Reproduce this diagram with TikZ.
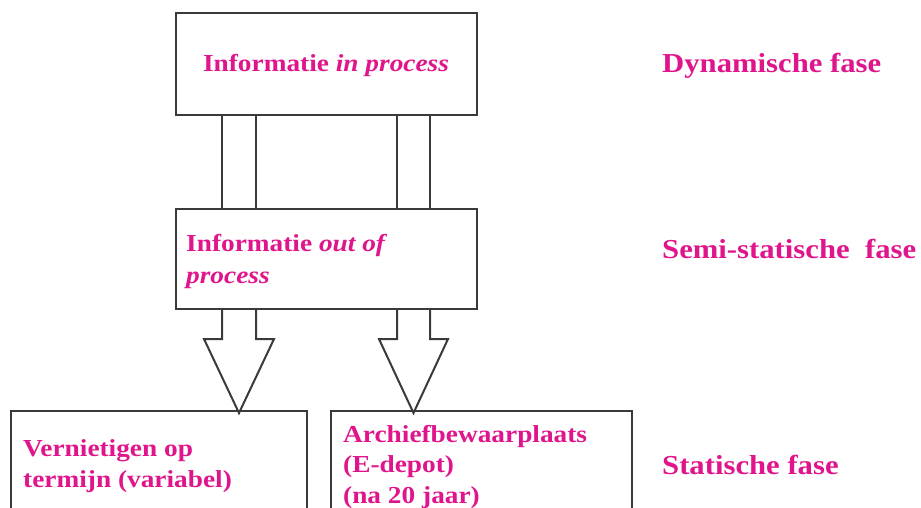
\documentclass[tikz,border=0pt]{standalone}
\usepackage{fontspec}
\setmainfont{Liberation Serif}[FakeStretch=1.12]
\usetikzlibrary{positioning,calc}
\definecolor{LabelPink}{HTML}{E0158C}
\definecolor{LineGrey}{HTML}{3A3A3A}
\tikzset{
    % Phase box
    phasebox/.style={
        draw=LineGrey,
        line width=2pt,
        fill=white,
        minimum width=301pt,
        minimum height=102pt,
        anchor=north west,
        inner sep=0pt
    },
    % Storage box (bottom row)
    storebox/.style={
        phasebox,
        minimum width=296pt,
        minimum height=140pt
    },
    % Pink bold text in the boxes
    pinktext/.style={
        text=LabelPink,
        font=\fontsize{24.4}{30.5}\selectfont\bfseries,
        inner sep=0pt,
        align=left
    },
    % Phase label on the right
    phaselabel/.style={
        pinktext,
        font=\fontsize{27.4}{32}\selectfont\bfseries,
        anchor=base west
    },
    % Plain shaft line
    shaftline/.style={
        draw=LineGrey,
        line width=2pt
    },
    % Hollow block arrow
    hollowarrow/.style={
        draw=LineGrey,
        fill=white,
        line width=2pt,
        line join=miter
    }
}
\begin{document}
\begin{tikzpicture}[x=1pt,y=-1pt]
    \clip (0,0) rectangle (921,508);
    \fill[white] (0,0) rectangle (921,508);

    % Boxes
    \node[phasebox] (inproc) at (175,12) {};
    \node[phasebox, minimum height=100pt] (outproc) at (175,208) {};
    \node[storebox] (destroy) at (10,410) {};
    \node[storebox, minimum width=301pt] (archive) at (330,410) {};

    % Shafts between the upper boxes
    \foreach \dx in {47,81,222,255}
        \draw[shaftline] ($(inproc.south west)+(\dx,0)$) -- ($(outproc.north west)+(\dx,0)$);

    % Hollow arrows down to the bottom boxes
    \draw[hollowarrow] ($(outproc.south west)+(47,0)$) -- ++(0,29) -- ++(-18,0) -- ++(35,74) -- ++(35,-74) -- ++(-18,0) -- ++(0,-29);
    \draw[hollowarrow] ($(outproc.south west)+(222,0)$) -- ++(0,29) -- ++(-18,0) -- ++(34.5,74) -- ++(34.5,-74) -- ++(-18,0) -- ++(0,-29);

    % Box texts
    \node[pinktext, anchor=base] (inproctext) at (326,72) {Informatie \textit{in process}};
    \node[pinktext, anchor=base west, font=\fontsize{24.4}{32}\selectfont\bfseries] (outproctext) at (186,283) {Informatie \textit{out of}\\\textit{process}};
    \node[pinktext, anchor=base west] (destroytext) at (23,487) {Vernietigen op\\termijn (variabel)};
    \node[pinktext, anchor=base west] (archivetext) at (343,503) {Archiefbewaarplaats\\(E-depot)\\(na 20 jaar)};

    % Phase labels
    \node[phaselabel] (dynamic) at (662,73) {Dynamische fase};
    \node[phaselabel] (semistatic) at (662,258) {Semi-statische\ \ fase};
    \node[phaselabel] (static) at (662,474) {Statische fase};
\end{tikzpicture}
\end{document}
